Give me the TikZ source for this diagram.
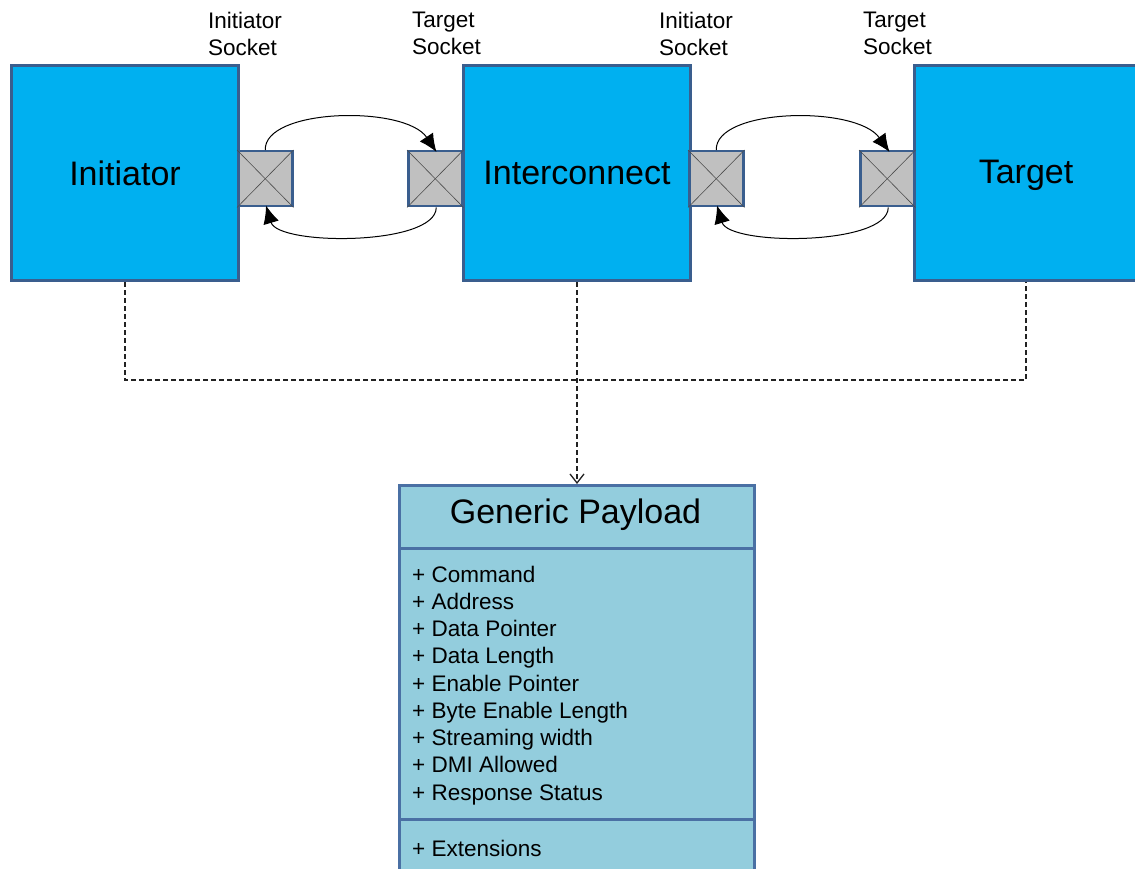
\documentclass[tikz,border=0pt]{standalone}
\usepackage{fontspec}
\setmainfont{Liberation Sans}
\usetikzlibrary{arrows.meta}
\definecolor{blockfill}{HTML}{00B0F0}
\definecolor{blockline}{HTML}{3A5E8E}
\definecolor{sockfill}{HTML}{C0C0C0}
\definecolor{payfill}{HTML}{93CDDD}
\definecolor{payline}{HTML}{4A70A4}
\definecolor{dashcol}{HTML}{222222}
\tikzset{
  block/.style={draw=blockline, fill=blockfill, line width=3pt, anchor=north west,
    minimum width=227pt, minimum height=215pt, inner sep=0pt,
    font=\fontsize{34}{40}\selectfont},
  sock/.style={draw=blockline, fill=sockfill, line width=2.5pt, anchor=north west,
    minimum width=54pt, minimum height=55pt, inner sep=0pt},
  cross/.style={draw=black!70, line width=0.6pt},
  socklabel/.style={anchor=north west, align=left, inner sep=0pt,
    font=\fontsize{22.5}{27}\selectfont},
  flow/.style={line width=1pt, -{Latex[length=18pt,width=16pt]}},
  link/.style={dashcol, line width=1.3pt, dash pattern=on 5pt off 3pt},
  item/.style={anchor=base west, inner sep=0pt, font=\fontsize{22.5}{27}\selectfont},
}
\begin{document}
\begin{tikzpicture}[x=1pt,y=-1pt]
\useasboundingbox (0,0) rectangle (1135,869);
\clip (0,0) rectangle (1135,869);
\fill[white] (0,0) rectangle (1135,869);

% components
\node[block] (init) at (10,64) {Initiator};
\node[block] (ic) at (462,64) {Interconnect};
\node[block, minimum width=240pt] (tgt) at (913,64) {};
\node[font=\fontsize{34}{40}\selectfont, anchor=base, inner sep=0pt] (tgtlabel) at (1026,184) {Target};

% sockets
\node[sock] (s1) at (237,150) {};
\node[sock] (s2) at (407,150) {};
\node[sock] (s3) at (688,150) {};
\node[sock] (s4) at (859,150) {};
\foreach \s in {s1,s2,s3,s4}{
  \draw[cross] (\s.north west) -- (\s.south east);
  \draw[cross] (\s.south west) -- (\s.north east);
}

% socket labels
\node[socklabel] (l1) at (208,12) {Initiator\\Socket};
\node[socklabel] (l2) at (412,12) {Target\\Socket};
\node[socklabel] (l3) at (659,12) {Initiator\\Socket};
\node[socklabel] (l4) at (863,12) {Target\\Socket};

% transport calls between sockets
\coordinate (t2) at ([xshift=-27pt,yshift=-2pt]s2.north east);
\coordinate (b1) at ([xshift=29pt,yshift=2pt]s1.south west);
\draw[flow] (s1.north) .. controls (264,108) and (405,105) .. (t2);
\draw[flow] ([xshift=1pt]s2.south) .. controls (436,246) and (278,246) .. (b1);
\coordinate (t4) at ([xshift=-26pt,yshift=-2pt]s4.north east);
\coordinate (b3) at ([xshift=29pt,yshift=2pt]s3.south west);
\draw[flow] (s3.north) .. controls (715,108) and (856,105) .. (t4);
\draw[flow] ([xshift=1pt]s4.south) .. controls (888,246) and (729,246) .. (b3);

% generic payload class
\node[draw=payline, fill=payfill, line width=3pt, anchor=north west,
  minimum width=355pt, minimum height=420pt, inner sep=0pt] (pay) at (398,484) {};
\draw[payline, line width=3pt] (pay.west |- 0,548) -- (pay.east |- 0,548);
\draw[payline, line width=3pt] (pay.west |- 0,819) -- (pay.east |- 0,819);
\node[font=\fontsize{34}{40}\selectfont, anchor=base, inner sep=0pt] (title) at (575.5,523) {Generic Payload};
\foreach \t [count=\i from 0] in {Command,Address,Data Pointer,Data Length,
  Enable Pointer,Byte Enable Length,Streaming width,DMI Allowed,Response Status}{
  \node[item] (it\i) at (412,{582+27.25*\i}) {+ \t};
}
\node[item] (ext) at (412,856) {+ Extensions};

% dashed associations
\coordinate (j1) at (init.south |- 0,380);
\coordinate (j3) at (tgtlabel |- 0,380);
\draw[link] (init.south) -- (j1) -- (j3) -- (tgtlabel |- tgt.south);
\draw[link, -{Straight Barb[length=9pt,width=14pt]}] (ic.south) -- (ic.south |- pay.north);
\end{tikzpicture}
\end{document}
